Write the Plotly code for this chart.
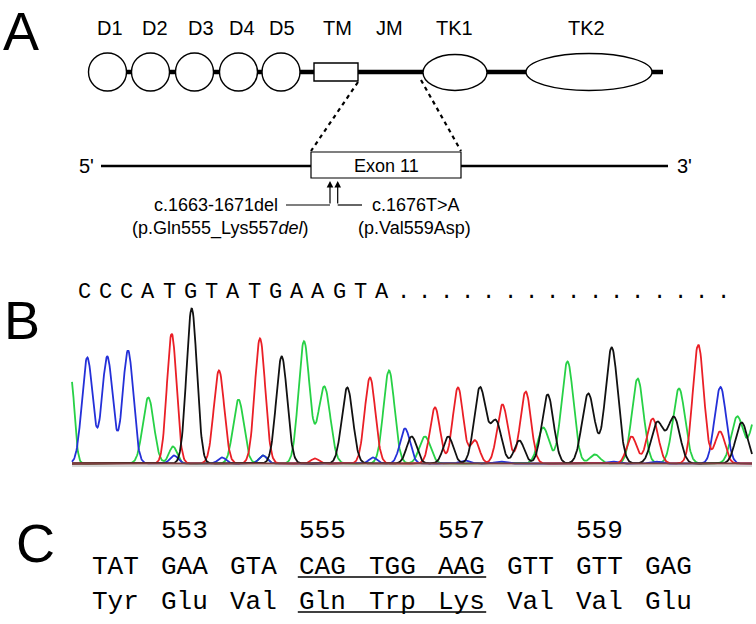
import numpy as np
import plotly.graph_objects as go

# ------------------------------------------------------------------ data
domains = ["D1", "D2", "D3", "D4", "D5", "TM", "JM", "TK1", "TK2"]
read_bases = "CCCATGTATGAAGTA"
n_unread = 16
codons = ["TAT", "GAA", "GTA", "CAG", "TGG", "AAG", "GTT", "GTT", "GAG"]
amino_acids = ["Tyr", "Glu", "Val", "Gln", "Trp", "Lys", "Val", "Val", "Glu"]
first_codon_number = 552
residue_labels = [553, 555, 557, 559]
deleted_codons = [555, 556, 557]
mutations = ["c.1663-1671del", "c.1676T>A"]
protein_changes = ["(p.Gln555_Lys557<i>del</i>)", "(p.Val559Asp)"]

# chromatogram peaks (scan position, height, width) per base
peaks_A_pos = [71, 148.3, 173, 238.5, 263, 304, 324.3, 389, 425, 543.3, 567.5, 595, 637.7, 679, 737.3, 757]
peaks_A_h = [85, 66, 17, 64, 8, 122, 77, 93, 27, 36, 102, 9, 85, 75, 47, 52]
peaks_A_w = [3.5, 5.5, 4, 5.3, 4, 5.5, 6, 5.5, 5.5, 5.5, 6, 5, 5.8, 6, 6, 6]

peaks_T_pos = [171.7, 219, 260, 315, 370, 435, 458, 475, 502.5, 525.7, 631.7, 652.7, 698.3, 720]
peaks_T_h = [130, 93, 125, 5, 86, 56, 76, 23, 59, 72, 27, 45, 119, 32]
peaks_T_w = [4.8, 5.2, 5.2, 4, 5.3, 5, 5.2, 4.5, 5.3, 5.3, 5, 5.5, 5.5, 5]

peaks_G_pos = [191.7, 281.7, 347.3, 411.7, 448.3, 480, 496, 519.3, 547.7, 588.3, 611.7, 657.3, 674, 741.7]
peaks_G_h = [155, 107, 76, 27, 27, 76, 42, 23, 69, 70, 116, 41, 46, 41]
peaks_G_w = [5.2, 5.5, 5.5, 5, 5, 5.8, 5.5, 5, 5.8, 6.2, 6.2, 6, 6, 6]

peaks_C_pos = [87.3, 107.3, 128, 174, 222, 263, 373, 405, 465, 500, 612, 655, 714, 720.7]
peaks_C_h = [106, 107, 113, 8, 6, 8, 6, 35, 3, 2, 2, 2, 6, 75]
peaks_C_w = [5.3, 5.3, 5.3, 4, 4, 4, 4, 5, 5, 5, 5, 5, 4, 5.5]

# ------------------------------------------------------------------ style
SANS = "Liberation Sans, Arial, sans-serif"
MONO = "Liberation Mono, Courier New, monospace"
BASE_COLORS = {"A": "#27d146", "C": "#2430d8", "T": "#ea1f26", "G": "#111111"}

fig = go.Figure()
shapes = []
ann = []


def text(x, y, s, size, family=SANS, xanchor="center", color="black"):
    ann.append(dict(x=x, y=y, xref="x", yref="y", text=s, showarrow=False,
                    xanchor=xanchor, yanchor="middle",
                    font=dict(size=size, family=family, color=color)))


def line(x0, y0, x1, y1, w=1.2, color="black", dash="solid"):
    shapes.append(dict(type="line", x0=x0, y0=y0, x1=x1, y1=y1, xref="x", yref="y",
                       line=dict(color=color, width=w, dash=dash)))


# ------------------------------------------------------------------ panel A
text(21, 31, "A", 54)
backbone_y = 72
line(88, backbone_y, 663, backbone_y, w=4.5)
circle_cx = [107.5, 150.5, 194.5, 238.5, 281]
for cx in circle_cx:
    shapes.append(dict(type="circle", x0=cx - 19, x1=cx + 19, y0=backbone_y - 19,
                       y1=backbone_y + 19, xref="x", yref="y",
                       fillcolor="white", line=dict(color="black", width=1.4)))
shapes.append(dict(type="rect", x0=314, x1=358, y0=63, y1=81, xref="x", yref="y",
                   fillcolor="white", line=dict(color="black", width=1.4)))
shapes.append(dict(type="circle", x0=423, x1=487, y0=54.5, y1=90.5, xref="x", yref="y",
                   fillcolor="white", line=dict(color="black", width=1.4)))
shapes.append(dict(type="circle", x0=526, x1=652, y0=53.5, y1=90.5, xref="x", yref="y",
                   fillcolor="white", line=dict(color="black", width=1.4)))
label_x = [110, 155, 201, 242, 282, 337, 389, 454, 586]
for name, lx in zip(domains, label_x):
    text(lx, 28, name, 20)

# zoom lines
line(358, 82, 311, 151, w=2.2, dash="4px,4px")
line(421, 80, 461, 151, w=2.2, dash="4px,4px")

# exon line
exon_y = 166
line(101, exon_y, 668, exon_y, w=2.5)
shapes.append(dict(type="rect", x0=311, x1=461, y0=152, y1=178, xref="x", yref="y",
                   fillcolor="white", line=dict(color="black", width=1.2)))
text(386, exon_y, "Exon 11", 18)
text(86, exon_y, "5'", 20)
text(684, exon_y, "3'", 20)

# mutation arrows
for ax_ in (330, 337.7):
    ann.append(dict(x=ax_, y=181, ax=ax_, ay=205, xref="x", yref="y", axref="x", ayref="y",
                    text="", showarrow=True, arrowhead=2, arrowsize=1.1, arrowwidth=1.2,
                    arrowcolor="black"))
line(286, 205, 330, 205, w=1.2)
line(337.7, 205, 362, 205, w=1.2)
text(280, 205, mutations[0], 18, xanchor="right")
text(220, 228, protein_changes[0], 18)
text(370, 205, mutations[1], 18, xanchor="left")
text(414, 228, protein_changes[1], 18)

# ------------------------------------------------------------------ panel B
text(22, 320, "B", 54)
seq_chars = list(read_bases) + ["."] * n_unread
for i, ch in enumerate(seq_chars):
    text(84 + i * 21.3, 292, ch, 22, family=MONO)

scan = np.arange(72, 752.01, 0.5)


def signal(pos, hts, wds):
    s = np.zeros_like(scan)
    for p, h, w in zip(pos, hts, wds):
        s += h * np.exp(-0.5 * ((scan - p) / w) ** 2)
    return s


for base, pos, hts, wds in [("A", peaks_A_pos, peaks_A_h, peaks_A_w),
                            ("C", peaks_C_pos, peaks_C_h, peaks_C_w),
                            ("T", peaks_T_pos, peaks_T_h, peaks_T_w),
                            ("G", peaks_G_pos, peaks_G_h, peaks_G_w)]:
    fig.add_trace(go.Scatter(x=scan, y=signal(pos, hts, wds), mode="lines",
                             line=dict(color=BASE_COLORS[base], width=1.8),
                             yaxis="y2", hoverinfo="skip", name=base))

base_y = 463.5
line(72, base_y + 2.5, 752, base_y + 2.5, w=2, color="#d6d6d6")
line(72, base_y, 752, base_y, w=1.8, color="#7a3f3f")

# ------------------------------------------------------------------ panel C
text(35, 543, "C", 54)
codon_x0, pitch = 115.2, 69.2
for i, (cod, aa) in enumerate(zip(codons, amino_acids)):
    cx = codon_x0 + i * pitch
    text(cx, 567, cod, 26, family=MONO)
    text(cx, 602, aa, 26, family=MONO)
for n in residue_labels:
    cx = codon_x0 + (n - first_codon_number) * pitch
    text(cx, 531, str(n), 26, family=MONO)
i0 = deleted_codons[0] - first_codon_number
i1 = deleted_codons[-1] - first_codon_number
ux0 = codon_x0 + i0 * pitch - 25
ux1 = codon_x0 + i1 * pitch + 25
line(ux0, 577, ux1, 577, w=1.4)
line(ux0, 612, ux1, 612, w=1.4)

fig.update_layout(
    width=756, height=624, margin=dict(l=0, r=0, t=0, b=0),
    paper_bgcolor="white", plot_bgcolor="white", showlegend=False,
    xaxis=dict(range=[0, 756], visible=False, fixedrange=True),
    yaxis=dict(range=[624, 0], visible=False, fixedrange=True),
    yaxis2=dict(range=[-(624 - base_y), base_y], overlaying="y", visible=False, fixedrange=True),
    shapes=shapes, annotations=ann,
)
fig.write_html("out.html", config={"displayModeBar": False},
               post_script="document.body.style.margin='0';document.body.style.padding='0';")
